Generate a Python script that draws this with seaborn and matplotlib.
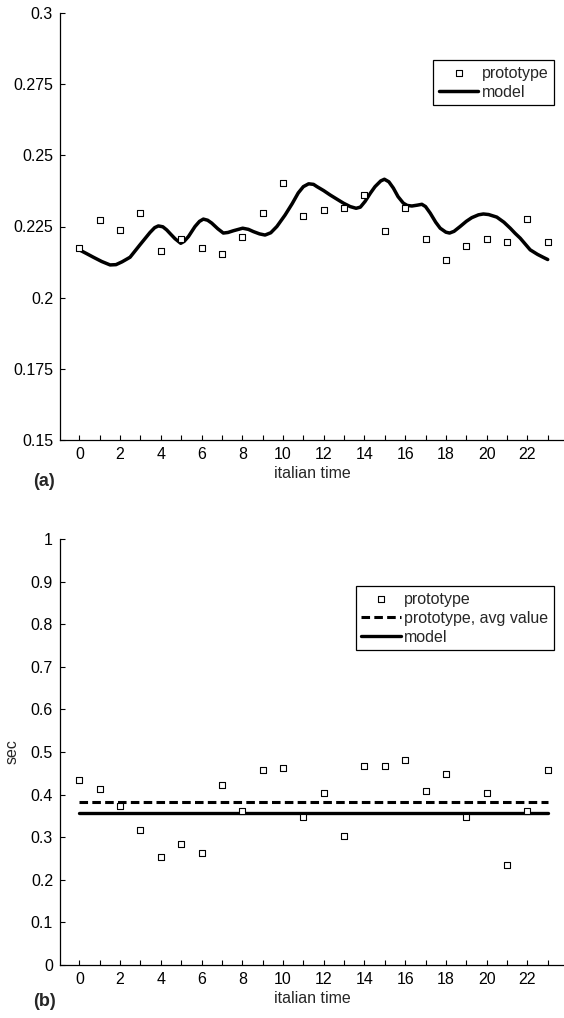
import numpy as np
import pandas as pd
import matplotlib
matplotlib.use("Agg")
import matplotlib.pyplot as plt
from matplotlib.ticker import FixedLocator, FuncFormatter
import seaborn as sns

# hourly samples
hours = list(range(24))

proto_a = [0.2174, 0.2273, 0.2238, 0.2299, 0.2165, 0.2205, 0.2174, 0.2155,
           0.2213, 0.2299, 0.2404, 0.2287, 0.2307, 0.2315, 0.2360, 0.2234,
           0.2315, 0.2206, 0.2131, 0.2181, 0.2207, 0.2195, 0.2276, 0.2195]

# model curve of panel (a)
model_hour = [0.0, 0.35, 0.69, 1.1, 1.51, 1.8, 2.1, 2.49, 2.98, 3.47, 3.7, 3.88,
              4.1, 4.29, 4.5, 4.7, 4.98, 5.15, 5.36, 5.68, 5.9, 6.09, 6.3, 6.5,
              6.8, 7.07, 7.3, 7.56, 8.02, 8.3, 8.55, 8.85, 9.12, 9.4, 9.7,
              10.1, 10.45, 10.75, 11.0, 11.26, 11.5, 11.67, 12.0, 12.31, 12.65,
              12.97, 13.3, 13.59, 13.8, 14.03, 14.3, 14.52, 14.8, 14.98, 15.2,
              15.42, 15.65, 15.91, 16.1, 16.33, 16.6, 16.82, 17.0, 17.23, 17.5,
              17.72, 18.0, 18.18, 18.4, 18.7, 19.0, 19.27, 19.6, 19.84, 20.1,
              20.5, 20.85, 21.16, 21.4, 21.65, 21.9, 22.14, 22.5, 22.8, 23.0]
model_a = [0.2168, 0.2155, 0.2142, 0.2127, 0.2115, 0.2116, 0.2126, 0.2142,
           0.2186, 0.2229, 0.2246, 0.2252, 0.2249, 0.2238, 0.2222, 0.2207,
           0.2191, 0.2198, 0.2215, 0.2250, 0.2268, 0.2276, 0.2272, 0.2262,
           0.2242, 0.2227, 0.2229, 0.2235, 0.2244, 0.2240, 0.2232, 0.2224,
           0.2220, 0.2228, 0.2250, 0.2290, 0.2330, 0.2368, 0.2390, 0.2400,
           0.2398, 0.2390, 0.2376, 0.2361, 0.2346, 0.2332, 0.2320, 0.2314,
           0.2318, 0.2338, 0.2368, 0.2390, 0.2410, 0.2416, 0.2407, 0.2385,
           0.2355, 0.2332, 0.2324, 0.2322, 0.2325, 0.2328, 0.2320, 0.2297,
           0.2265, 0.2244, 0.2230, 0.2227, 0.2233, 0.2250, 0.2268, 0.2281,
           0.2291, 0.2294, 0.2292, 0.2283, 0.2265, 0.2244, 0.2226, 0.2209,
           0.2188, 0.2168, 0.2152, 0.2141, 0.2134]

proto_b = [0.4337, 0.4126, 0.3721, 0.3167, 0.2527, 0.2847, 0.2621, 0.4228,
           0.3619, 0.4587, 0.4633, 0.3463, 0.4048, 0.3019, 0.4680, 0.4672,
           0.4821, 0.4095, 0.4493, 0.3463, 0.4048, 0.2340, 0.3619, 0.4579]
model_b = 0.3557

xticks = list(range(24))
yticks_a = [0.15, 0.175, 0.2, 0.225, 0.25, 0.275, 0.3]
yticks_b = [0, 0.1, 0.2, 0.3, 0.4, 0.5, 0.6, 0.7, 0.8, 0.9, 1]

sns.set_style("ticks")
plt.rcParams['font.family'] = ['Liberation Sans', 'DejaVu Sans']
plt.rcParams['font.size'] = 11.5

W, H = 564, 1018
fig = plt.figure(figsize=(W / 100, H / 100), dpi=100)
ax_a = fig.add_axes([60 / W, 1 - 440 / H, 504 / W, 427 / H])
ax_b = fig.add_axes([60 / W, 1 - 965 / H, 504 / W, 426 / H])

marker_kw = dict(marker='s', s=20, facecolor='white', edgecolor='black',
                 linewidth=0.8, zorder=3)


def style_axis(ax, yticks):
    ax.set_xlim(-0.95, 23.8)
    ax.set_ylim(yticks[0], yticks[-1])
    ax.xaxis.set_major_locator(FixedLocator(xticks))
    ax.xaxis.set_major_formatter(FuncFormatter(lambda v, p: f"{int(v)}" if int(v) % 2 == 0 else ""))
    ax.set_yticks(yticks)
    ax.yaxis.set_major_formatter(FuncFormatter(lambda v, p: f"{v:g}"))
    ax.tick_params(direction='in', length=3.5, width=0.8, labelsize=11.5,
                   colors='black', pad=5)
    for side in ['top', 'right']:
        ax.spines[side].set_visible(False)
    for side in ['left', 'bottom']:
        ax.spines[side].set_color('black')
        ax.spines[side].set_linewidth(0.9)
    ax.set_xlabel('italian time', fontsize=11.5, labelpad=3)


# panel (a)
sns.scatterplot(x=hours, y=proto_a, ax=ax_a, label='prototype', **marker_kw)
sns.lineplot(x=model_hour, y=model_a, ax=ax_a, color='black', linewidth=2.5,
             label='model', sort=False, solid_joinstyle='round',
             solid_capstyle='round')
style_axis(ax_a, yticks_a)
ax_a.set_ylabel('')

# panel (b)
avg_b = float(np.mean(proto_b))
sns.scatterplot(x=hours, y=proto_b, ax=ax_b, label='prototype', **marker_kw)
sns.lineplot(x=[hours[0], hours[-1]], y=[avg_b, avg_b], ax=ax_b, color='black',
             linewidth=2.2, dashes=False, label='prototype, avg value')
sns.lineplot(x=[hours[0], hours[-1]], y=[model_b, model_b], ax=ax_b, color='black',
             linewidth=2.4, label='model')
ax_b.lines[0].set_dashes((2.8, 1.4))
style_axis(ax_b, yticks_b)
ax_b.set_ylabel('sec', fontsize=11.5, labelpad=8)

legend_kw = dict(loc='upper right', bbox_transform=fig.transFigure, borderaxespad=0,
                 fancybox=False, framealpha=1, edgecolor='black', fontsize=11.5,
                 handlelength=2.5, handletextpad=0.2, labelspacing=0.25,
                 borderpad=0.35, markerscale=1.0)
leg_a = ax_a.legend(bbox_to_anchor=(554 / W, 1 - 60 / H), **legend_kw)
leg_b = ax_b.legend(bbox_to_anchor=(554 / W, 1 - 586 / H), **legend_kw)
for leg in (leg_a, leg_b):
    leg.get_frame().set_linewidth(0.9)

fig.text(33 / W, 1 - 482 / H, '(a)', fontsize=13, fontweight='bold', va='center', ha='left')
fig.text(33 / W, 1 - 1002 / H, '(b)', fontsize=13, fontweight='bold', va='center', ha='left')

fig.savefig('out.png', dpi=100)
